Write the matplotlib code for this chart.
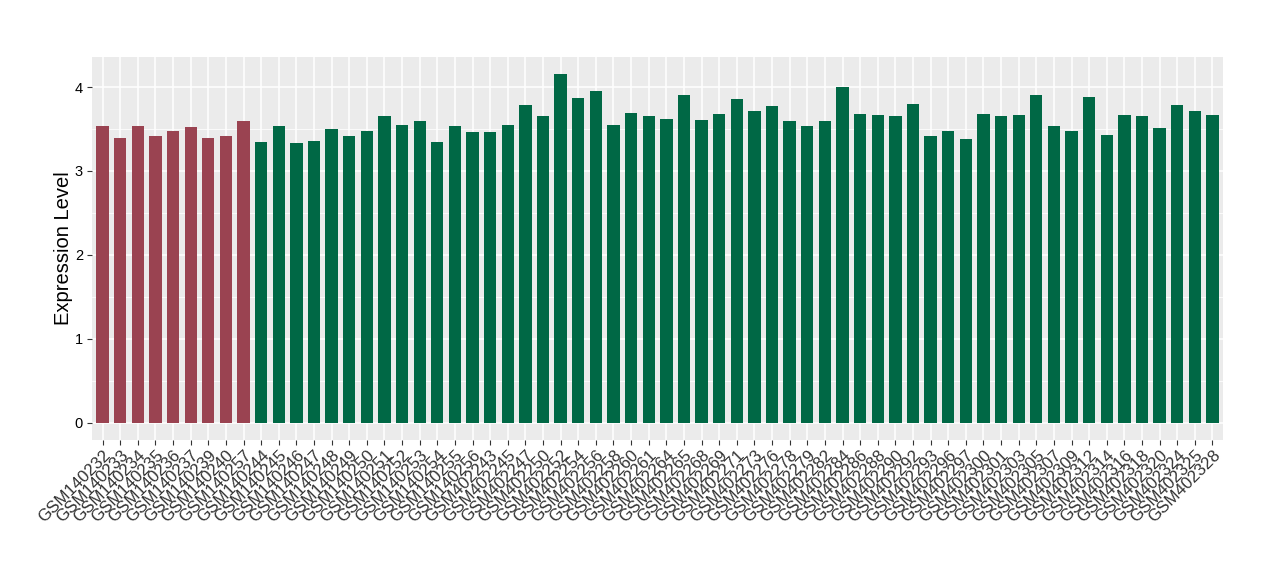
import numpy as np
import matplotlib.pyplot as plt
import matplotlib as mpl

mpl.rcParams.update({
    'font.family': ['Liberation Sans', 'DejaVu Sans'],
})

# ── Data ──────────────────────────────────────────────────────────────────────
red_samples = ['GSM140232', 'GSM140233', 'GSM140234', 'GSM140235', 'GSM140236',
               'GSM140237', 'GSM140239', 'GSM140240', 'GSM140257']
red_values = [3.53, 3.39, 3.53, 3.42, 3.48, 3.52, 3.39, 3.42, 3.59]

green_samples = ['GSM140244', 'GSM140245', 'GSM140246', 'GSM140247', 'GSM140248',
                 'GSM140249', 'GSM140250', 'GSM140251', 'GSM140252', 'GSM140253',
                 'GSM140254', 'GSM140255', 'GSM140256', 'GSM402243', 'GSM402245',
                 'GSM402247', 'GSM402250', 'GSM402252', 'GSM402254', 'GSM402256',
                 'GSM402258', 'GSM402260', 'GSM402261', 'GSM402264', 'GSM402265',
                 'GSM402268', 'GSM402269', 'GSM402271', 'GSM402273', 'GSM402276',
                 'GSM402278', 'GSM402279', 'GSM402282', 'GSM402284', 'GSM402286',
                 'GSM402288', 'GSM402290', 'GSM402292', 'GSM402293', 'GSM402296',
                 'GSM402297', 'GSM402300', 'GSM402301', 'GSM402303', 'GSM402305',
                 'GSM402307', 'GSM402309', 'GSM402312', 'GSM402314', 'GSM402316',
                 'GSM402318', 'GSM402320', 'GSM402324', 'GSM402325', 'GSM402328']
green_values = [3.35, 3.54, 3.33, 3.36, 3.50, 3.42, 3.47, 3.65, 3.55, 3.59,
                3.35, 3.54, 3.46, 3.46, 3.55, 3.78, 3.66, 4.15, 3.87, 3.955,
                3.55, 3.69, 3.66, 3.62, 3.90, 3.61, 3.68, 3.86, 3.71, 3.77,
                3.60, 3.54, 3.60, 4.00, 3.68, 3.67, 3.66, 3.80, 3.42, 3.47,
                3.385, 3.68, 3.66, 3.67, 3.91, 3.54, 3.48, 3.885, 3.43, 3.67,
                3.66, 3.515, 3.79, 3.71, 3.67]

RED = '#9A4351'
GREEN = '#006845'

labels = red_samples + green_samples
values = red_values + green_values
colors = [RED] * len(red_samples) + [GREEN] * len(green_samples)
x = np.arange(1, len(labels) + 1)

# ── Figure ────────────────────────────────────────────────────────────────────
fig = plt.figure(figsize=(12.8, 5.8), dpi=100)
ax = fig.add_axes([0.0719, 0.2414, 0.8836, 0.6603])
ax.set_facecolor('#EBEBEB')

ax.bar(x, values, width=0.7, color=colors, zorder=3)

ymax = max(values)
pad = 0.05 * ymax
ax.set_ylim(-pad, ymax + pad)
ax.set_xlim(0.4, len(labels) + 0.6)

ax.set_yticks([0, 1, 2, 3, 4])
ax.set_yticks([0.5, 1.5, 2.5, 3.5], minor=True)
ax.set_xticks(x)
ax.set_xticklabels(labels, rotation=45, ha='right', va='top',
                   rotation_mode='anchor', fontsize=12.2, color='black')
ax.tick_params(axis='y', labelsize=10.5, colors='#333333', length=3.5, width=0.8,
               labelcolor='black', pad=3)
ax.tick_params(axis='x', colors='#333333', length=3.5, width=0.8, pad=2)
ax.tick_params(axis='y', which='minor', length=0)

ax.grid(True, which='major', color='white', linewidth=1.1, zorder=0)
ax.grid(True, which='minor', axis='y', color='white', linewidth=0.55, zorder=0)
ax.set_axisbelow(True)
for s in ax.spines.values():
    s.set_visible(False)

ax.set_ylabel('Expression Level', fontsize=14.5, labelpad=1)

fig.savefig('out.png', dpi=100)
